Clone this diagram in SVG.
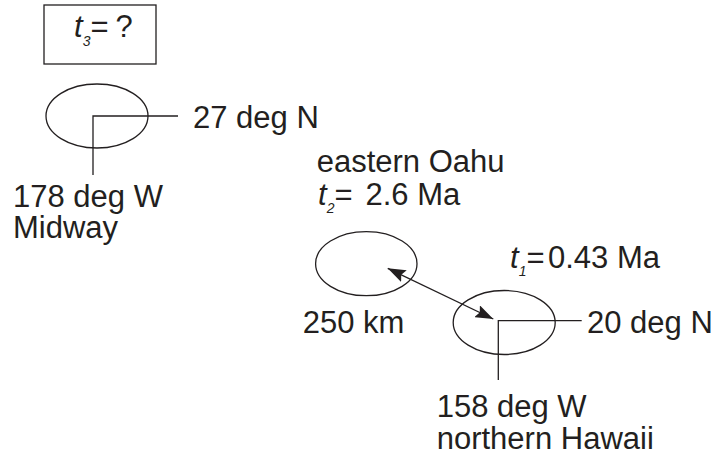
<svg xmlns="http://www.w3.org/2000/svg" width="718" height="455" viewBox="0 0 718 455">
<defs>
<style>
.t{font-family:"Liberation Sans",Arial,sans-serif;font-size:31px;fill:#231f20}
.i{font-style:italic}
.s{font-size:14px;font-style:italic}
.ln{fill:none;stroke:#231f20;stroke-width:1.3}
</style>
<marker id="ah" viewBox="0 0 18 13" refX="18" refY="6.5" markerWidth="18" markerHeight="13" markerUnits="userSpaceOnUse" orient="auto-start-reverse">
<path d="M0,0 L18,6.5 L0,13 L3,6.5 Z" fill="#231f20"/>
</marker>
</defs>
<rect width="718" height="455" fill="#fff"/>
<g id="t3box">
<rect x="44" y="5" width="112" height="59" class="ln"/>
<text class="t" x="74" y="37"><tspan class="i">t</tspan><tspan class="s" x="82.7" dy="8.5">3</tspan><tspan x="90.6" dy="-8.5">=</tspan><tspan x="115.5">?</tspan></text>
</g>
<g id="midway">
<ellipse cx="97" cy="116" rx="51" ry="32" class="ln"/>
<text class="t" x="193" y="128">27 deg N</text>
<text class="t" x="13" y="206.5">178 deg W</text>
<text class="t" x="13" y="238">Midway</text>
</g>
<g id="oahu">
<ellipse cx="366.3" cy="263.7" rx="50.7" ry="32" class="ln"/>
<text class="t" x="316.7" y="171.7">eastern Oahu</text>
<text class="t" x="318" y="205"><tspan class="i">t</tspan><tspan class="s" x="326.7" dy="8">2</tspan><tspan x="334.6" dy="-8">=</tspan><tspan x="365.5">2.6 Ma</tspan></text>
<text class="t" x="302.7" y="333">250 km</text>
</g>
<g id="hawaii">
<ellipse cx="504.2" cy="322.5" rx="51" ry="32" class="ln"/>
<text class="t" x="510" y="267.5"><tspan class="i">t</tspan><tspan class="s" x="518.7" dy="8">1</tspan><tspan x="526.5" dy="-8">=</tspan><tspan x="548">0.43 Ma</tspan></text>
<text class="t" x="587" y="333">20 deg N</text>
<text class="t" x="436.7" y="416.5">158 deg W</text>
<text class="t" x="436.7" y="449">northern Hawaii</text>
</g>
<g id="connectors">
<path class="ln" d="M93,175 V116 H178"/>
<path class="ln" d="M498.3,380 V320.7 H581.7"/>
<line x1="387.7" y1="268.3" x2="493.3" y2="319" class="ln" marker-start="url(#ah)" marker-end="url(#ah)"/>
</g>
</svg>
